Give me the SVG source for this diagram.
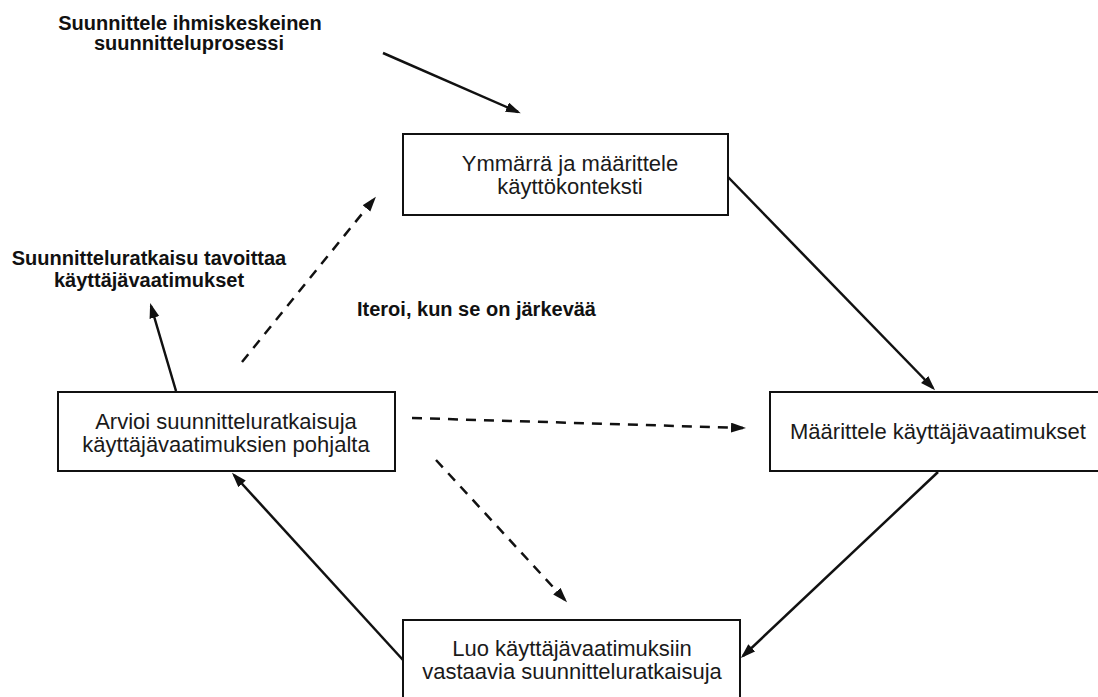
<svg xmlns="http://www.w3.org/2000/svg" width="1098" height="697" viewBox="0 0 1098 697">
  <style>
    .box { fill: #ffffff; stroke: #111111; stroke-width: 2; }
    .txt { font-family: "Liberation Sans", Arial, sans-serif; font-size: 22px; fill: #1a1a1a; text-anchor: middle; }
    .lbl { font-family: "Liberation Sans", Arial, sans-serif; font-size: 20px; font-weight: bold; fill: #111111; }
    .solid { fill: none; stroke: #111111; stroke-width: 2.5; marker-end: url(#arrow); }
    .dash { fill: none; stroke: #111111; stroke-width: 2.5; stroke-dasharray: 10 8; marker-end: url(#arrow); }
  </style>
  <defs>
    <marker id="arrow" markerUnits="userSpaceOnUse" markerWidth="16" markerHeight="12" refX="12" refY="5" orient="auto">
      <path d="M0,0 L15,5 L0,10 z" fill="#111111"/>
    </marker>
  </defs>
  <rect width="1098" height="697" fill="#ffffff"/>

  <g id="label-start">
    <text class="lbl" x="190" y="30" text-anchor="middle">Suunnittele ihmiskeskeinen</text>
    <text class="lbl" x="189" y="50" text-anchor="middle">suunnitteluprosessi</text>
  </g>
  <g id="label-goal">
    <text class="lbl" x="149" y="265" text-anchor="middle">Suunnitteluratkaisu tavoittaa</text>
    <text class="lbl" x="149" y="287" text-anchor="middle">käyttäjävaatimukset</text>
  </g>
  <g id="label-iterate">
    <text class="lbl" x="357" y="316">Iteroi, kun se on järkevää</text>
  </g>

  <g id="node-context">
    <rect class="box" x="403" y="134" width="325" height="81"/>
    <text class="txt" x="570" y="171">Ymmärrä ja määrittele</text>
    <text class="txt" x="570" y="194">käyttökonteksti</text>
  </g>
  <g id="node-requirements">
    <rect class="box" x="770" y="392" width="336" height="79"/>
    <text class="txt" x="938" y="439">Määrittele käyttäjävaatimukset</text>
  </g>
  <g id="node-create">
    <rect class="box" x="403" y="620" width="337" height="90"/>
    <text class="txt" x="572" y="656">Luo käyttäjävaatimuksiin</text>
    <text class="txt" x="572" y="679">vastaavia suunnitteluratkaisuja</text>
  </g>
  <g id="node-evaluate">
    <rect class="box" x="58" y="392" width="337" height="79"/>
    <text class="txt" x="226" y="429">Arvioi suunnitteluratkaisuja</text>
    <text class="txt" x="226" y="452">käyttäjävaatimuksien pohjalta</text>
  </g>

  <g id="connectors">
    <line class="solid" x1="383" y1="53" x2="518" y2="112"/>
    <line class="solid" x1="728" y1="177" x2="933" y2="388"/>
    <line class="solid" x1="938" y1="472" x2="743" y2="656"/>
    <line class="solid" x1="403" y1="660" x2="234" y2="475"/>
    <line class="solid" x1="176" y1="391" x2="151" y2="306"/>
    <line class="dash" x1="242" y1="362" x2="374" y2="199"/>
    <line class="dash" x1="412" y1="418" x2="743" y2="428"/>
    <line class="dash" x1="436" y1="460" x2="565" y2="600"/>
  </g>
</svg>
